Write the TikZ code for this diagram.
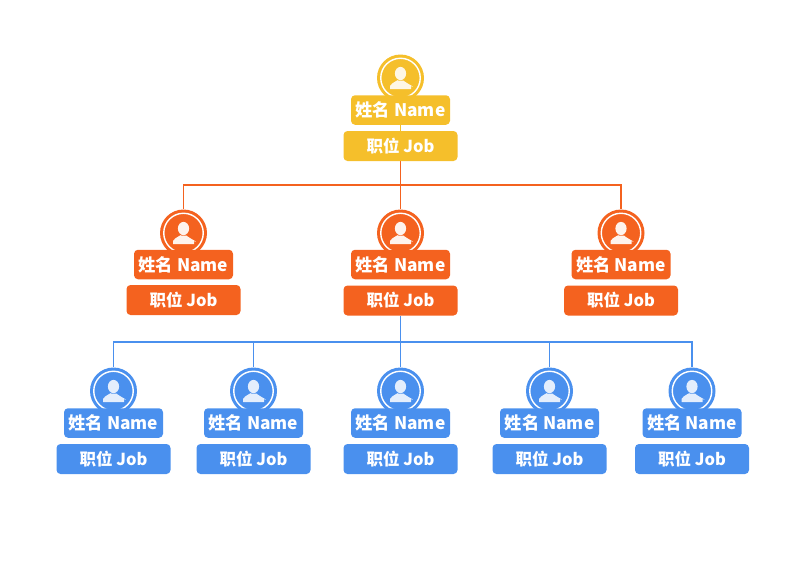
\documentclass[tikz,border=0pt]{standalone}
\usepackage{fontspec}
\usetikzlibrary{backgrounds}
\setmainfont{Noto Sans CJK SC}
\definecolor{cy}{HTML}{F5BF2B}
\definecolor{co}{HTML}{F4621F}
\definecolor{cb}{HTML}{4A90EE}
\tikzset{
 disc/.style={circle,fill=#1,minimum size=47pt,inner sep=0pt},
 whitering/.style={circle,draw=white,line width=1.4pt,minimum size=39.5pt,inner sep=0pt},
 namebox/.style={fill=#1,rounded corners=4pt,text=white,font=\bfseries\fontsize{17.3}{19}\selectfont,minimum width=99pt,minimum height=29.5pt,inner sep=0pt},
 jobbox/.style={fill=#1,rounded corners=4pt,text=white,font=\bfseries\fontsize{16.5}{19}\selectfont,minimum width=114pt,minimum height=30pt,inner sep=0pt},
 link/.style={draw=#1,line width=1.6pt}
}
% id, x, circle y, name y, job y, colour, icon tint
\newcommand{\person}[7]{%
 \node[disc=#6] (c#1) at (#2,#3) {};
 \node[whitering] (w#1) at (#2,#3) {};
 \fill[#7] (#2,#3) ++(0,-4.5) ellipse (5.6pt and 6.6pt);
 \fill[#7] (#2,#3) ++(-10.5,11) -- ++(0,-3) .. controls ++(0.8,-3) and ++(4.5,-2.5) .. ++(7.5,-5.5) -- ++(6,0) .. controls ++(3,3) and ++(6.7,2.5) .. ++(7.5,5.5) -- ++(0,3) -- cycle;
 \node[namebox=#6] (n#1) at (#2,#4) {姓名 Name};
 \node[jobbox=#6] (j#1) at (#2,#5) {职位 Job};
}
\begin{document}
\begin{tikzpicture}[x=1pt,y=-1pt]
\useasboundingbox (0,0) rectangle (800,566);
\person{a}{400.5}{78}{110}{146}{cy}{white!88!cy}
\person{e}{183.5}{233}{264.5}{300}{co}{white!92!co}
\person{f}{400.5}{233}{264.5}{300.5}{co}{white!92!co}
\person{g}{621}{233}{264.5}{300.5}{co}{white!92!co}
\person{p}{113.5}{391}{423}{459}{cb}{white!85!cb}
\person{q}{253.5}{391}{423}{459}{cb}{white!85!cb}
\person{r}{400.5}{391}{423}{459}{cb}{white!85!cb}
\person{s}{549.5}{391}{423}{459}{cb}{white!85!cb}
\person{t}{692}{391}{423}{459}{cb}{white!85!cb}
\coordinate (h1) at (400.5,185);
\coordinate (h2) at (400.5,342);
\begin{pgfonlayer}{background}
\draw[link=cy] (na.south) -- (ja.north);
\draw[link=cy] (ca.south) -- (na.north);
\draw[link=co] (ja.south) -- (cf.north);
\draw[link=co] (h1) -| (ce.north);
\draw[link=co] (h1) -| (cg.north);
\draw[link=cb] (jf.south) -- (cr.north);
\draw[link=cb] (h2) -| (cp.north);
\draw[link=cb] (h2) -| (cq.north);
\draw[link=cb] (h2) -| (cs.north);
\draw[link=cb] (h2) -| (ct.north);
\end{pgfonlayer}
\end{tikzpicture}
\end{document}
